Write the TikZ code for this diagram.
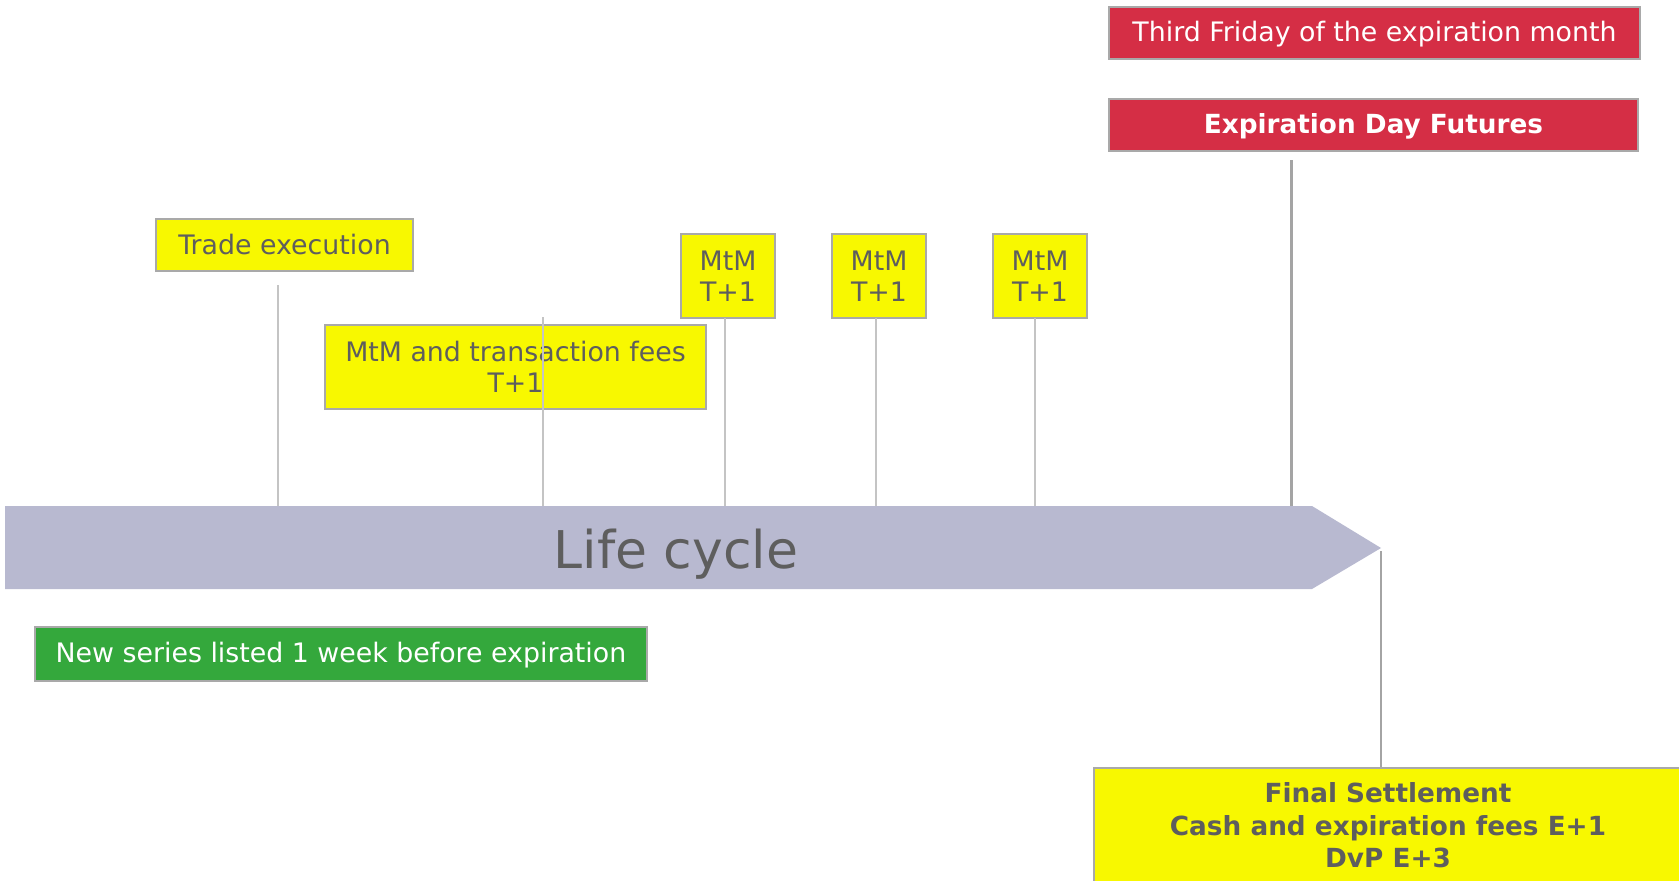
\documentclass[tikz,border=0pt]{standalone}
\usepackage{fontspec}
\setmainfont{DejaVu Sans}
\definecolor{boxgray}{HTML}{A9A9A9}
\definecolor{txtgray}{HTML}{5E5E5E}
\definecolor{evyellow}{HTML}{F8F800}
\definecolor{evred}{HTML}{D52E45}
\definecolor{evgreen}{HTML}{34A83C}
\definecolor{barblue}{HTML}{B8B9D0}
\definecolor{ticklight}{HTML}{C4C4C4}
\definecolor{tickdark}{HTML}{A4A4A4}
\begin{document}
\begin{tikzpicture}[x=1pt,y=-1pt,
  evbox/.style={draw=boxgray, line width=2pt, inner sep=0pt, align=center,
                font=\fontsize{26.8}{31.5}\selectfont},
  yellowbox/.style={evbox, fill=evyellow, text=txtgray},
  redbox/.style={evbox, fill=evred, text=white, text depth=3pt},
  greenbox/.style={evbox, fill=evgreen, text=white, text depth=3pt},
  tick/.style={draw=ticklight, line width=1.5pt},
  bigtick/.style={draw=tickdark, line width=3pt}]

% canvas
\fill[white] (0,0) rectangle (1679,881);
\useasboundingbox (0,0) rectangle (1679,881);

% time bar with arrow head
\fill[barblue] (5,506) -- (1312,506) -- (1381,548) -- (1312,589) -- (5,589) -- cycle;
\coordinate (bartop) at (0,506);
\coordinate (bartip) at (1381,551);
\node[text=txtgray, font=\fontsize{52}{60}\selectfont] (life) at (676,554) {Life cycle};

% events above the bar
\node[redbox, minimum width=531pt, minimum height=51.5pt] (third) at (1374.5,33)
  {Third Friday of the expiration month};
\node[redbox, minimum width=529pt, minimum height=52.5pt, font=\fontsize{26.3}{31.5}\selectfont\bfseries]
  (expday) at (1373.5,125) {Expiration Day Futures};
\node[yellowbox, minimum width=257pt, minimum height=52pt] (trade) at (284.5,245) {Trade execution};
\node[yellowbox, minimum width=381pt, minimum height=84pt] (fees) at (515.5,367)
  {MtM and transaction fees\\T+1};
\node[yellowbox, minimum width=94pt, minimum height=83.5pt] (mtma) at (728,276) {MtM\\T+1};
\node[yellowbox, minimum width=94pt, minimum height=83.5pt] (mtmb) at (879,276) {MtM\\T+1};
\node[yellowbox, minimum width=94pt, minimum height=83.5pt] (mtmc) at (1040,276) {MtM\\T+1};

% events below the bar
\node[greenbox, minimum width=612pt, minimum height=53.5pt] (listing) at (341,654)
  {New series listed 1 week before expiration};
\node[yellowbox, anchor=north, minimum width=588pt, inner ysep=15pt,
      font=\fontsize{26.3}{32.5}\selectfont\bfseries] (final) at (1388,767)
  {Final Settlement\\Cash and expiration fees E+1\\DvP E+3};

% ticks linking events to the bar
\coordinate (ttrade) at (278,285);
\coordinate (tfees) at (543,317);
\coordinate (tmtma) at (725,318);
\coordinate (tmtmb) at (876,318);
\coordinate (tmtmc) at (1035,318);
\coordinate (texp) at (1291,160);
\draw[tick] (ttrade) -- (ttrade |- bartop);
\draw[tick] (tfees) -- (tfees |- bartop);
\draw[tick] (tmtma) -- (tmtma |- bartop);
\draw[tick] (tmtmb) -- (tmtmb |- bartop);
\draw[tick] (tmtmc) -- (tmtmc |- bartop);
\draw[bigtick] (texp) -- (texp |- bartop);
\draw[draw=tickdark, line width=2pt] (bartip) -- (bartip |- final.north);
\end{tikzpicture}
\end{document}
